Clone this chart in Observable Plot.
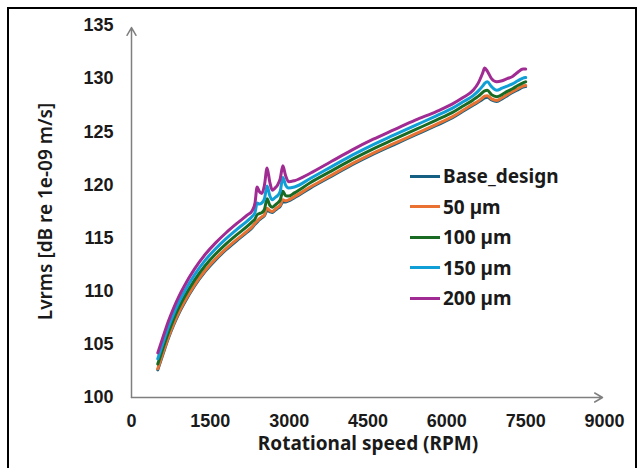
<!DOCTYPE html>
<html><head><meta charset="utf-8">
<script src="https://cdn.jsdelivr.net/npm/d3@7"></script>
<script src="https://cdn.jsdelivr.net/npm/@observablehq/plot@0.6"></script>
<style>
body{margin:0;background:#fff;}
#wrap{position:relative;width:644px;height:468px;overflow:hidden;background:#fff;}
#chart{position:absolute;left:0;top:0;}
#frame{position:absolute;left:7px;top:7px;width:630px;height:490px;border:2.5px solid #000;box-sizing:border-box;pointer-events:none;}
#legend{position:absolute;left:410px;top:161px;font-family:"Noto Sans",sans-serif;font-weight:700;font-size:19px;color:#1a1a1a;}
.row{display:flex;align-items:center;height:30.5px;white-space:nowrap;}
.sw{width:30px;height:3px;margin-right:3px;}
</style></head><body>
<div id="wrap"><div id="chart"></div><div id="legend"></div><div id="frame"></div></div>
<script>
const rpm = [500,600,700,800,900,1000,1200,1400,1600,1800,2000,2200,
  2300,2350,2390,2430,2480,2530,2580,2630,2680,2730,2780,2830,2880,2930,2990,
  3100,3400,3800,4200,4600,5000,5400,5800,6100,6300,
  6500,6600,6680,6720,6770,6850,6950,7050,7150,7250,7350,7450,7500];

const baseDesign = [102.6,104.1,105.55,106.8,107.9,108.85,110.5,111.85,112.95,113.9,114.75,115.55,
  116.0,116.3,116.5,116.7,116.9,117.1,117.6,117.5,117.4,117.6,117.8,118.0,118.4,118.4,118.5,
  118.8,119.7,120.8,121.9,122.9,123.8,124.7,125.6,126.3,126.9,
  127.5,127.8,128.05,128.2,128.25,128.0,127.85,128.1,128.4,128.7,128.95,129.2,129.25];

const um50 = [102.7,104.2,105.65,106.9,108.0,108.95,110.6,111.95,113.05,114.0,114.85,115.65,
  116.1,116.4,116.6,116.8,117.0,117.2,117.8,117.6,117.5,117.7,117.9,118.1,118.6,118.5,118.6,
  118.9,119.8,120.9,122.0,123.0,123.9,124.8,125.7,126.4,127.0,
  127.6,127.9,128.2,128.35,128.4,128.1,127.95,128.2,128.5,128.8,129.05,129.3,129.35];

const um100 = [103.15,104.65,106.1,107.35,108.45,109.4,111.05,112.4,113.5,114.45,115.3,116.1,
  116.55,116.8,117.2,117.3,117.4,117.7,118.7,118.1,117.9,118.1,118.3,118.6,119.4,119.0,118.95,
  119.25,120.2,121.3,122.4,123.4,124.3,125.2,126.1,126.8,127.4,
  128.0,128.35,128.7,128.85,128.9,128.5,128.3,128.5,128.8,129.05,129.35,129.6,129.7];

const um150 = [103.65,105.15,106.6,107.85,108.95,109.9,111.55,112.9,114.0,114.95,115.8,116.6,
  117.05,117.4,118.3,118.2,118.3,118.7,119.9,119.0,118.6,118.8,119.0,119.4,120.7,120.0,119.7,
  119.8,120.6,121.7,122.8,123.8,124.7,125.6,126.5,127.2,127.8,
  128.4,128.85,129.3,129.55,129.7,129.25,128.9,129.1,129.3,129.5,129.8,130.05,130.1];

const um200 = [104.2,105.7,107.15,108.4,109.5,110.45,112.1,113.45,114.55,115.5,116.35,117.15,
  117.6,118.3,119.8,119.4,119.2,120.0,121.6,120.3,119.5,119.7,120.0,120.6,121.8,120.9,120.3,
  120.4,121.1,122.2,123.3,124.3,125.2,126.1,126.9,127.6,128.2,
  128.9,129.6,130.5,131.0,130.7,130.0,129.7,129.8,130.0,130.2,130.6,130.9,130.9];

const seriesNames = ["Base_design","50 µm","100 µm","150 µm","200 µm"];
const seriesColors = ["#156082","#E97132","#196B24","#0F9ED5","#A02B93"];
const xTicks = [0,1500,3000,4500,6000,7500,9000];
const yTicks = [100,105,110,115,120,125,130,135];
const xDomain = [0,9000];
const yDomain = [100,135];
const xTitle = "Rotational speed (RPM)";
const yTitle = "Lvrms [dB re 1e-09 m/s]";

const seriesValues = [baseDesign, um50, um100, um150, um200];
const data = [];
seriesValues.forEach((vals,i) => vals.forEach((v,j) => data.push({rpm: rpm[j], v, s: seriesNames[i]})));

const axisArrows = [
  {x1: xDomain[0], y1: yDomain[0], x2: xDomain[1], y2: yDomain[0]},
  {x1: xDomain[0], y1: yDomain[0], x2: xDomain[0], y2: yDomain[1]}
];

const chart = Plot.plot({
  width: 644, height: 468,
  marginLeft: 131, marginRight: 40, marginTop: 25, marginBottom: 71,
  style: {fontFamily: "'Liberation Sans', Arial, sans-serif", background: "transparent", color: "#1a1a1a"},
  x: {domain: xDomain},
  y: {domain: yDomain},
  color: {domain: seriesNames, range: seriesColors},
  marks: [
    Plot.axisX({ticks: xTicks, tickSize: 0, tickPadding: 17, tickFormat: d => String(d), fontSize: 18, fontWeight: "bold", label: null}),
    Plot.axisY({ticks: yTicks, tickSize: 0, tickPadding: 18, tickFormat: d => String(d), fontSize: 18, fontWeight: "bold", label: null}),
    Plot.arrow(axisArrows, {x1: "x1", y1: "y1", x2: "x2", y2: "y2", stroke: "#7f7f7f", strokeWidth: 1.5, headLength: 9, insetEnd: 2}),
    Plot.line(data, {x: "rpm", y: "v", z: "s", stroke: "s", strokeWidth: 3, curve: "monotone-x"}),
    Plot.text([xTitle], {frameAnchor: "bottom", dy: 52, fontSize: 19, fontWeight: "bold", fontFamily: "'Noto Sans', sans-serif", fill: "#1a1a1a"}),
    Plot.text([yTitle], {frameAnchor: "left", textAnchor: "middle", dx: -86, rotate: -90, fontSize: 19, fontWeight: "600", fontFamily: "'Noto Sans', sans-serif", fill: "#1a1a1a", letterSpacing: "0.6px"})
  ]
});
document.getElementById("chart").appendChild(chart);

const legend = document.getElementById("legend");
seriesNames.forEach((n,i) => {
  const row = document.createElement("div");
  row.className = "row";
  const sw = document.createElement("div");
  sw.className = "sw";
  sw.style.background = seriesColors[i];
  const t = document.createElement("span");
  t.textContent = n;
  row.appendChild(sw); row.appendChild(t);
  legend.appendChild(row);
});
</script>
</body></html>
